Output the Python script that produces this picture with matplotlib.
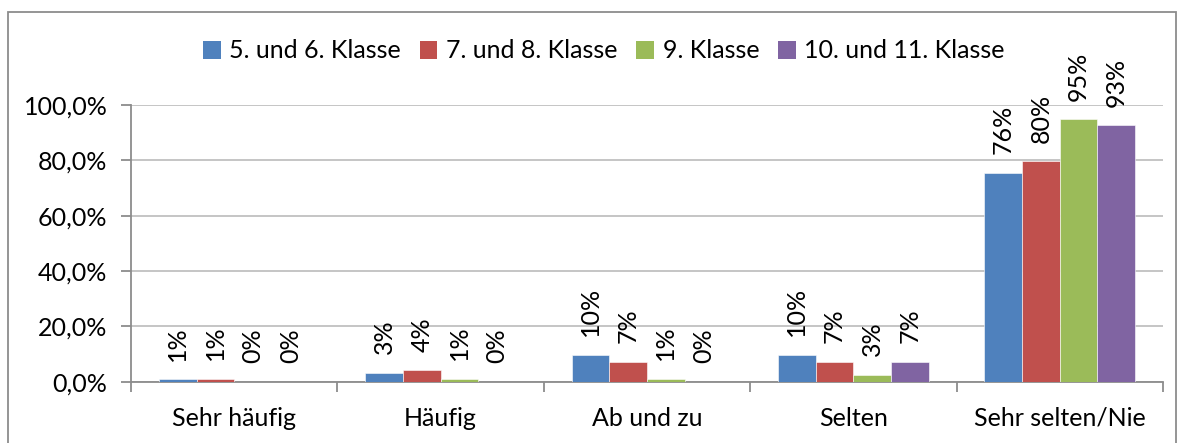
import numpy as np
import matplotlib.pyplot as plt
from matplotlib.patches import Patch, Rectangle
from matplotlib.ticker import FuncFormatter, FixedLocator

plt.rcParams['font.family'] = ['Lato', 'DejaVu Sans']

categories = ["Sehr häufig", "Häufig", "Ab und zu", "Selten", "Sehr selten/Nie"]
series_names = ["5. und 6. Klasse", "7. und 8. Klasse", "9. Klasse", "10. und 11. Klasse"]
klasse_5_6 = [0.8, 3.3, 9.6, 9.6, 75.6]
klasse_7_8 = [1.1, 4.1, 7.2, 7.2, 79.6]
klasse_9 = [0.0, 1.0, 1.0, 2.6, 94.8]
klasse_10_11 = [0.0, 0.0, 0.0, 7.2, 92.6]
colors = ["#4F81BD", "#C0504D", "#9BBB59", "#8064A2"]

series = [klasse_5_6, klasse_7_8, klasse_9, klasse_10_11]
FS = 18

fig = plt.figure(figsize=(11.84, 4.43), dpi=100)
ax = fig.add_axes([131 / 1184, 1 - 381.7 / 443, (1163 - 131) / 1184, (381.7 - 105) / 443])

# outer chart frame
fig.patches.append(Rectangle((8 / 1184, -0.05), (1176 - 8) / 1184, 1.05 - 12 / 443,
                             transform=fig.transFigure, fill=False,
                             edgecolor="#8C8C8C", linewidth=1.3))

x = np.arange(len(categories))
bw = 0.73 / 4
for i, (vals, col) in enumerate(zip(series, colors)):
    pos = x - 0.365 + bw * (i + 0.5)
    bars = ax.bar(pos, vals, width=bw, color=col, edgecolor="white", linewidth=0.4, zorder=3)
    for b, v in zip(bars, vals):
        ax.annotate("{:.0f}%".format(v), (b.get_x() + b.get_width() / 2, v),
                    xytext=(0, 13.5), textcoords="offset points", rotation=90,
                    ha="center", va="bottom", fontsize=FS, color="black")

ax.set_xlim(-0.5, len(categories) - 0.5)
ax.set_ylim(0, 100)
ax.set_yticks(np.arange(0, 101, 20))
ax.yaxis.set_major_formatter(FuncFormatter(lambda v, p: "{:.1f}%".format(v).replace(".", ",")))
ax.grid(axis="y", color="#C0C0C0", linewidth=1.3, zorder=0)
ax.set_axisbelow(True)

ax.set_xticks(x)
ax.set_xticklabels(categories)
ax.xaxis.set_minor_locator(FixedLocator(np.arange(-0.5, len(categories), 1.0)))
ax.tick_params(axis="x", which="major", length=0, pad=18, labelsize=FS)
ax.tick_params(axis="x", which="minor", length=7, width=1.3, color="#8C8C8C")
ax.tick_params(axis="y", length=7, width=1.3, color="#8C8C8C", pad=10, labelsize=FS)

for s in ["top", "right"]:
    ax.spines[s].set_visible(False)
for s in ["left", "bottom"]:
    ax.spines[s].set_color("#8C8C8C")
    ax.spines[s].set_linewidth(1.3)

handles = [Patch(facecolor=c, label=n) for c, n in zip(colors, series_names)]
fig.legend(handles=handles, loc="center", bbox_to_anchor=(604 / 1184, 1 - 51 / 443),
           ncol=4, frameon=False, fontsize=FS, handlelength=0.7, handleheight=0.7,
           handletextpad=0.35, columnspacing=0.75)

fig.savefig("out.png", dpi=100)
